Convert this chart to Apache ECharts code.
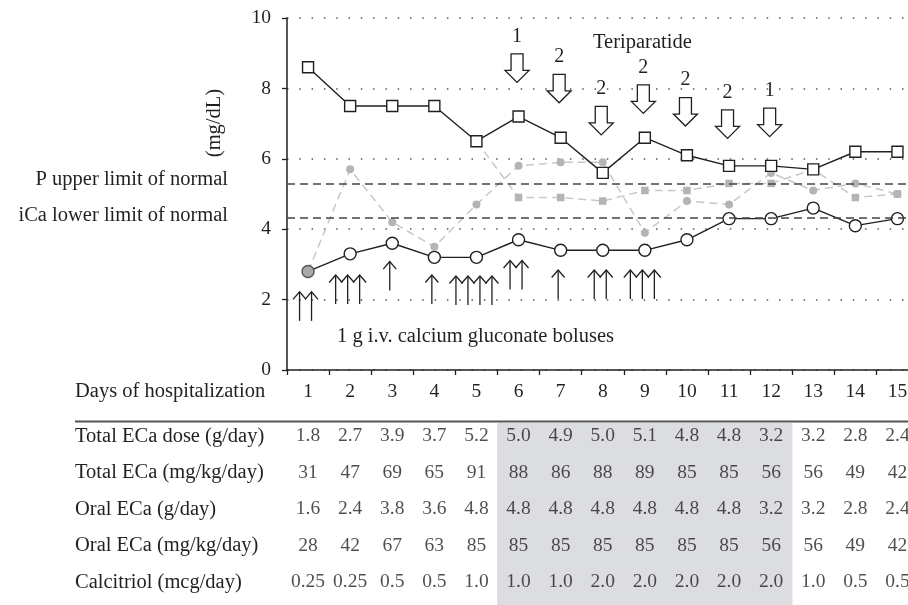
<!DOCTYPE html>
<html>
<head>
<meta charset="utf-8">
<script src="https://cdn.jsdelivr.net/npm/echarts@6/dist/echarts.min.js"></script>
<style>html,body{margin:0;padding:0;background:#fff}#c{width:908px;height:605px}</style>
</head>
<body>
<div id="c"></div>
<script>
const days = ['1','2','3','4','5','6','7','8','9','10','11','12','13','14','15'];
// black squares (solid line)
const squareSeries = [8.6,7.5,7.5,7.5,6.5,7.2,6.6,5.6,6.6,6.1,5.8,5.8,5.7,6.2,6.2];
// black circles (solid line)
const circleSeries = [2.8,3.3,3.6,3.2,3.2,3.7,3.4,3.4,3.4,3.7,4.3,4.3,4.6,4.1,4.3];
// grey circles (dashed)
const greyCircleSeries = [2.8,5.7,4.2,3.5,4.7,5.8,5.9,5.9,3.9,4.8,4.7,5.6,5.1,5.3,5.0];
// grey squares (dashed)
const greySquareSeries = [null,null,null,null,6.5,4.9,4.9,4.8,5.1,5.1,5.3,5.3,5.7,4.9,5.0];
const pUpperLimit = 5.3;
const iCaLowerLimit = 4.33;
const yTicks = [0,2,4,6,8,10];

// Teriparatide doses (hollow down arrows)
const teriDays = ['6','7','8','9','10','11','12'];
const teriDoses = [1,2,2,2,2,2,1];
const teriTip = [8.17,7.59,6.68,7.29,6.93,6.58,6.63];

// i.v. calcium gluconate boluses (up arrows)
const bolusDays = ['1','2','3','4','5','6','7','8','9'];
const bolusCounts = [2,3,1,1,4,2,1,2,3];
const bolusTop = [2.22,2.70,3.08,2.70,2.67,3.11,2.84,2.84,2.84];

// table
const rowLabels = ['Total ECa dose (g/day)','Total ECa (mg/kg/day)','Oral ECa (g/day)','Oral ECa (mg/kg/day)','Calcitriol (mcg/day)'];
const totalEcaDose = ['1.8','2.7','3.9','3.7','5.2','5.0','4.9','5.0','5.1','4.8','4.8','3.2','3.2','2.8','2.4'];
const totalEcaMgKg = ['31','47','69','65','91','88','86','88','89','85','85','56','56','49','42'];
const oralEcaDose = ['1.6','2.4','3.8','3.6','4.8','4.8','4.8','4.8','4.8','4.8','4.8','3.2','3.2','2.8','2.4'];
const oralEcaMgKg = ['28','42','67','63','85','85','85','85','85','85','85','56','56','49','42'];
const calcitriol = ['0.25','0.25','0.5','0.5','1.0','1.0','1.0','2.0','2.0','2.0','2.0','2.0','1.0','0.5','0.5'];
const shadedDays = ['6','7','8','9','10','11','12'];

const FONT = 'Liberation Serif';
const TXT = '#231f20';
const tableRows = [totalEcaDose, totalEcaMgKg, oralEcaDose, oralEcaMgKg, calcitriol];

const chart = echarts.init(document.getElementById('c'));

const tableSeries = tableRows.map((row, r) => ({
  type: 'scatter', xAxisIndex: 1, yAxisIndex: 1, z: 5,
  symbol: 'circle', symbolSize: 1, itemStyle: {color: 'rgba(0,0,0,0)'},
  silent: true,
  data: row.map((v, i) => ({value: [days[i], rowLabels[r]], txt: v})),
  label: {show: true, position: 'inside', fontFamily: FONT, fontSize: 19.5, color: TXT,
    formatter: p => p.data.txt}
}));

const option = {
  animation: false,
  backgroundColor: '#fff',
  textStyle: {fontFamily: FONT, color: TXT},
  grid: [
    {left: 287, top: 18, width: 631.5, bottom: 235, outerBoundsMode: 'none', containLabel: false},
    {left: 287, top: 418, width: 631.5, bottom: 4.5, outerBoundsMode: 'none', containLabel: false}
  ],
  xAxis: [
    {type: 'category', data: days, gridIndex: 0, boundaryGap: true,
     axisLine: {lineStyle: {color: '#231f20', width: 1.5}},
     axisTick: {show: true, length: 5, interval: 0, lineStyle: {color: '#231f20', width: 1.3}},
     axisLabel: {fontFamily: FONT, fontSize: 19.5, color: TXT, margin: 12, interval: 0},
     splitLine: {show: false}},
    {type: 'category', data: days, gridIndex: 1, boundaryGap: true, show: false}
  ],
  yAxis: [
    {type: 'value', gridIndex: 0, min: 0, max: 10, interval: 2,
     axisLine: {show: true, lineStyle: {color: '#231f20', width: 1.5}},
     axisTick: {show: true, length: 5, lineStyle: {color: '#231f20', width: 1.3}},
     axisLabel: {fontFamily: FONT, fontSize: 19.5, color: TXT, margin: 16,
       formatter: v => yTicks.indexOf(v) >= 0 ? String(v) : ''},
     splitLine: {show: true, lineStyle: {color: '#555', width: 1.5, type: [1.5, 10.8]}}},
    {type: 'category', gridIndex: 1, data: rowLabels, inverse: true,
     axisLine: {show: false}, axisTick: {show: false}, splitLine: {show: false},
     axisLabel: {align: 'left', margin: 212, fontFamily: FONT, fontSize: 20.5, color: TXT}}
  ],
  graphic: [
    {type: 'line', shape: {x1: 75, y1: 421.5, x2: 908, y2: 421.5}, style: {stroke: '#555', lineWidth: 2}, z: 10},
    {type: 'text', x: 75, y: 392, style: {text: 'Days of hospitalization', font: '20.5px "Liberation Serif"', fill: TXT, textVerticalAlign: 'middle'}},
    {type: 'text', x: 593, y: 43, style: {text: 'Teriparatide', font: '20.5px "Liberation Serif"', fill: TXT, textVerticalAlign: 'middle'}},
    {type: 'text', x: 337, y: 337, style: {text: '1 g i.v. calcium gluconate boluses', font: '20.5px "Liberation Serif"', fill: TXT, textVerticalAlign: 'middle'}},
    {type: 'text', x: 215, y: 123, rotation: Math.PI / 2, style: {text: '(mg/dL)', font: '20.5px "Liberation Serif"', fill: TXT, textAlign: 'center', textVerticalAlign: 'middle'}}
  ],
  series: [
    // table shading
    {type: 'custom', xAxisIndex: 1, yAxisIndex: 1, z: 1, silent: true,
     data: shadedDays.map(d => [d, 0]),
     renderItem: (params, api) => {
       const c = api.coord([api.value(0), 0]);
       const bw = api.size([1, 0])[0];
       return {type: 'rect', shape: {x: c[0] - bw / 2 - 0.3, y: params.coordSys.y + 5, width: bw + 0.6, height: 200},
         style: {fill: '#dcdde0'}};
     }},
    ...tableSeries,
    // grey dashed circles
    {type: 'line', data: greyCircleSeries, z: 2, symbol: 'circle', symbolSize: 8,
     lineStyle: {color: '#c8c8c8', width: 1.5, type: [8, 5]},
     itemStyle: {color: '#b4b4b4', borderWidth: 0}},
    // grey dashed squares
    {type: 'line', data: greySquareSeries, z: 2, symbol: 'rect', symbolSize: 7.5, connectNulls: false,
     lineStyle: {color: '#c8c8c8', width: 1.5, type: [8, 5]},
     itemStyle: {color: '#b4b4b4', borderWidth: 0}},
    // black squares
    {type: 'line', data: squareSeries, z: 4, symbol: 'rect', symbolSize: 11,
     lineStyle: {color: '#231f20', width: 1.4},
     itemStyle: {color: '#fff', borderColor: '#231f20', borderWidth: 1.4},
     markLine: {silent: true, symbol: ['none', 'none'],
       lineStyle: {color: '#444', width: 1.5, type: [8, 5]},
       label: {show: true, position: 'start', distance: 59, fontFamily: FONT, fontSize: 20.5, color: TXT},
       data: [
         {yAxis: pUpperLimit, label: {formatter: 'P upper limit of normal', offset: [0, -4]}},
         {yAxis: iCaLowerLimit, label: {formatter: 'iCa lower limit of normal', offset: [0, -2]}}
       ]}},
    // black circles
    {type: 'line', z: 4, symbol: 'circle', symbolSize: 12,
     data: circleSeries.map((v, i) => i === 0 ? {value: v, itemStyle: {color: '#aaa', borderColor: '#555'}} : v),
     lineStyle: {color: '#231f20', width: 1.4},
     itemStyle: {color: '#fff', borderColor: '#231f20', borderWidth: 1.4}},
    // teriparatide hollow arrows
    {type: 'custom', z: 6, silent: true,
     data: teriDays.map((d, i) => [d, teriTip[i], teriDoses[i]]),
     renderItem: (params, api) => {
       const p = api.coord([api.value(0), api.value(1)]);
       const x = p[0] - 1.5, y = p[1];
       const pts = [[x-6, y-28.5],[x+6, y-28.5],[x+6, y-12],[x+12, y-12],[x, y],[x-12, y-12],[x-6, y-12]];
       return {type: 'group', children: [
         {type: 'polygon', shape: {points: pts}, style: {fill: '#fff', stroke: '#231f20', lineWidth: 1.3}},
         {type: 'text', x: x, y: y - 46, style: {text: String(api.value(2)), font: '20px "Liberation Serif"', fill: TXT, textAlign: 'center', textVerticalAlign: 'middle'}}
       ]};
     }},
    // bolus up arrows
    {type: 'custom', z: 6, silent: true,
     data: bolusDays.map((d, i) => [d, bolusTop[i], bolusCounts[i]]),
     renderItem: (params, api) => {
       const p = api.coord([api.value(0), api.value(1)]);
       const n = api.value(2);
       const children = [];
       for (let k = 0; k < n; k++) {
         const x = p[0] - 2.5 + (k - (n - 1) / 2) * 12;
         const y = p[1];
         children.push({type: 'line', shape: {x1: x, y1: y, x2: x, y2: y + 29}, style: {stroke: '#231f20', lineWidth: 1.3}});
         children.push({type: 'polyline', shape: {points: [[x - 6.5, y + 7.5], [x, y], [x + 6.5, y + 7.5]]}, style: {stroke: '#231f20', lineWidth: 1.3, fill: null}});
       }
       return {type: 'group', children};
     }}
  ]
};
chart.setOption(option);
</script>
</body>
</html>
